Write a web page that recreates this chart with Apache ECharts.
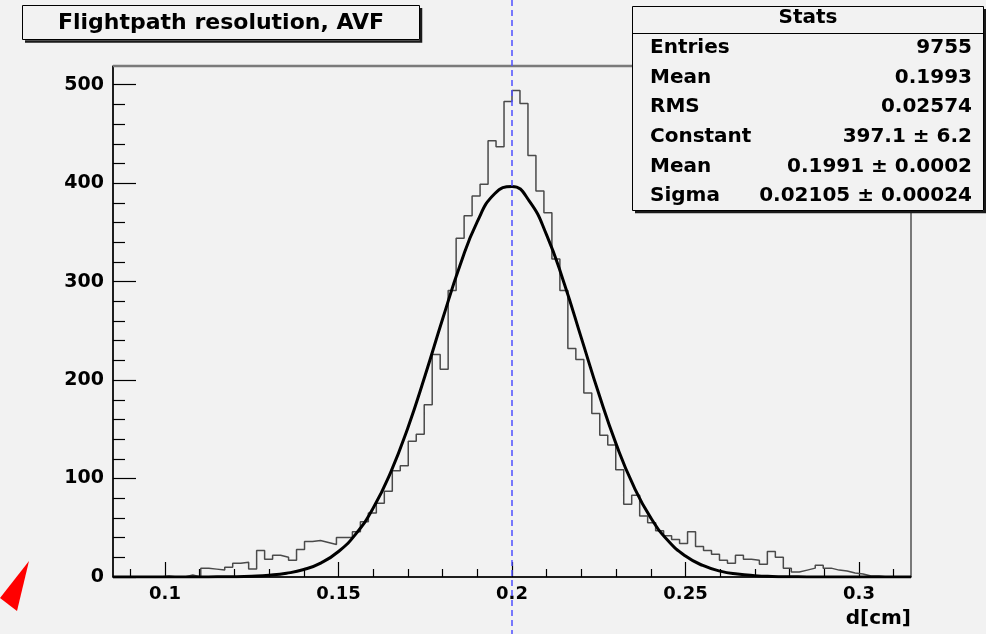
<!DOCTYPE html>
<html><head><meta charset="utf-8">
<script src="https://cdn.jsdelivr.net/npm/echarts@6/dist/echarts.min.js"></script>
<style>html,body{margin:0;padding:0;background:#f2f2f2}#c{width:986px;height:634px}</style>
</head><body><div id="c"></div>
<script>
// ---- data ----
const chartTitle = 'Flightpath resolution, AVF';
const xName = 'd[cm]';
const xMin = 0.085, xMax = 0.315, nBins = 100;
const yMax = 519;
const counts = [
  0,0,0,0,0,0,1,0,0,2,
  0,9,8,7,10,14,15,8,27,18,
  22,20,17,28,36,37,35,33,40,40,
  46,56,65,75,87,108,113,138,145,175,
  226,211,291,344,367,387,399,443,437,483,
  494,481,428,392,370,323,291,232,221,187,
  166,144,134,109,74,83,62,55,47,42,
  38,34,46,31,27,23,17,14,22,18,
  17,13,26,20,9,5,7,9,12,9,
  7,6,4,3,1,1,0,0,0,0
];
const fitX = [0.085,0.09,0.095,0.1,0.105,0.11,0.115,0.12,0.125,0.13,0.135,0.14,0.145,0.15,0.155,0.16,0.165,0.17,0.175,0.18,0.185,0.19,0.195,0.2,0.205,0.21,0.215,0.22,0.225,0.23,0.235,0.24,0.245,0.25,0.255,0.26,0.265,0.27,0.275,0.28,0.285,0.29,0.295,0.3,0.305,0.31,0.315];
const fitY = [0,0,0,0,0,0.05,0.15,0.3,0.8,1.8,3.8,7.6,14.4,25.9,43.8,70.1,106.1,151.7,205.2,262,316.3,361,389.3,396.7,381.8,347.3,298.6,242.6,186.3,135.2,92.7,60.1,36.8,21.3,11.7,6.0,3.0,1.4,0.6,0.25,0.1,0.03,0,0,0,0,0];
const xTicks = [0.1,0.15,0.2,0.25,0.3];
const xMinorTicks = [0.09,0.11,0.12,0.13,0.14,0.16,0.17,0.18,0.19,0.21,0.22,0.23,0.24,0.26,0.27,0.28,0.29,0.31];
const yTicks = [0,100,200,300,400,500];
const yMinorTicks = [20,40,60,80,120,140,160,180,220,240,260,280,320,340,360,380,420,440,460,480];
const statsHeader = 'Stats';
const statsLabels = ['Entries','Mean','RMS','Constant','Mean','Sigma'];
const statsValues = ['9755','0.1993','0.02574','397.1 \u00b1 6.2','0.1991 \u00b1 0.0002','0.02105 \u00b1 0.00024'];
const markX = 0.2;

// ---- build ----
const binW = (xMax - xMin) / nBins;
const histData = counts.map((c, k) => [xMin + k * binW, c]);
histData.push([xMax, counts[counts.length - 1]]);
const fitData = fitX.map((x, i) => [x, fitY[i]]);

const FONT = 'DejaVu Sans';
const chart = echarts.init(document.getElementById('c'), null, {renderer: 'canvas'});

const statsGraphics = [];
const rowY = [47.5, 77.5, 107, 137, 166.5, 196];
statsLabels.forEach((l, i) => {
  statsGraphics.push({type:'text', z:201, style:{text:l, x:650, y:rowY[i], fill:'#000', font:'bold 20px "DejaVu Sans"', textAlign:'left', textVerticalAlign:'middle'}});
  statsGraphics.push({type:'text', z:201, style:{text:statsValues[i], x:972, y:rowY[i], fill:'#000', font:'bold 20px "DejaVu Sans"', textAlign:'right', textVerticalAlign:'middle'}});
});

chart.setOption({
  backgroundColor: '#f2f2f2',
  animation: false,
  grid: {left:113, right:75, top:66, bottom:57, show:true, borderColor:'#000', borderWidth:1, backgroundColor:'transparent'},
  xAxis: [
    {type:'value', min:xMin, max:xMax, position:'bottom',
     axisLine:{show:true, onZero:false, lineStyle:{color:'#000', width:1.5}},
     axisTick:{show:true, inside:true, length:15, customValues:xTicks, lineStyle:{color:'#000', width:1.2}},
     axisLabel:{show:true, customValues:xTicks, formatter:v=>String(v), fontFamily:FONT, fontWeight:'bold', fontSize:18, color:'#000', margin:8},
     splitLine:{show:false}},
    {type:'value', min:xMin, max:xMax, position:'bottom',
     axisLine:{show:false},
     axisTick:{show:true, inside:true, length:8, customValues:xMinorTicks, lineStyle:{color:'#000', width:1.2}},
     axisLabel:{show:false}, splitLine:{show:false}}
  ],
  yAxis: [
    {type:'value', min:0, max:yMax,
     axisLine:{show:true, onZero:false, lineStyle:{color:'#000', width:1.5}},
     axisTick:{show:true, inside:true, length:23, customValues:yTicks, lineStyle:{color:'#000', width:1.2}},
     axisLabel:{show:true, customValues:yTicks, fontFamily:FONT, fontWeight:'bold', fontSize:19, color:'#000', margin:9},
     splitLine:{show:false}},
    {type:'value', min:0, max:yMax, position:'left',
     axisLine:{show:false},
     axisTick:{show:true, inside:true, length:12, customValues:yMinorTicks, lineStyle:{color:'#000', width:1.2}},
     axisLabel:{show:false}, splitLine:{show:false}}
  ],
  series: [
    {type:'line', name:'hist', data:histData, step:'end', symbol:'none', xAxisIndex:0, yAxisIndex:0,
     lineStyle:{color:'#4a4a4a', width:1.5}, z:3},
    {type:'line', name:'fit', data:fitData, smooth:0.5, symbol:'none', xAxisIndex:0, yAxisIndex:0,
     lineStyle:{color:'#000', width:3}, z:4}
  ],
  graphic: [
    {type:'line', z:5, shape:{x1:113, y1:66, x2:911, y2:66}, style:{stroke:'#7a7a7a', lineWidth:2.5}},
    {type:'text', z:5, style:{text:xName, x:911, y:619, fill:'#000', font:'bold 20px "DejaVu Sans"', textAlign:'right', textVerticalAlign:'middle'}},
    {type:'polyline', z:199, shape:{points:[[421,8],[421,41.5],[25,41.5]]}, style:{stroke:'#1a1a1a', lineWidth:2.5, fill:null}},
    {type:'rect', z:200, shape:{x:22.5, y:5.5, width:397, height:34}, style:{fill:'#f2f2f2', stroke:'#000', lineWidth:1}},
    {type:'text', z:201, style:{text:chartTitle, x:221, y:23, fill:'#000', font:'bold 22px "DejaVu Sans"', textAlign:'center', textVerticalAlign:'middle'}},
    {type:'polyline', z:199, shape:{points:[[985,9],[985,212],[635,212]]}, style:{stroke:'#1a1a1a', lineWidth:2.5, fill:null}},
    {type:'rect', z:200, shape:{x:632.5, y:6.5, width:351, height:204}, style:{fill:'#f2f2f2', stroke:'#000', lineWidth:1}},
    {type:'line', z:201, shape:{x1:632.5, y1:33.5, x2:983.5, y2:33.5}, style:{stroke:'#000', lineWidth:1}},
    {type:'text', z:201, style:{text:statsHeader, x:808, y:18, fill:'#000', font:'bold 20px "DejaVu Sans"', textAlign:'center', textVerticalAlign:'middle'}},
    ...statsGraphics,
    {type:'polygon', z:210, shape:{points:[[29,561],[0,598],[17,611]]}, style:{fill:'#ff0000'}}
  ]
});

// vertical dashed line at the mean, positioned via the axis scale
const px = chart.convertToPixel({xAxisIndex:0}, markX);
chart.setOption({graphic: [{type:'line', id:'meanline', z:150, shape:{x1:px, y1:0, x2:px, y2:634}, style:{stroke:'#4f4fff', lineWidth:1.5, lineDash:[6,4]}}]});
</script>
</body></html>
